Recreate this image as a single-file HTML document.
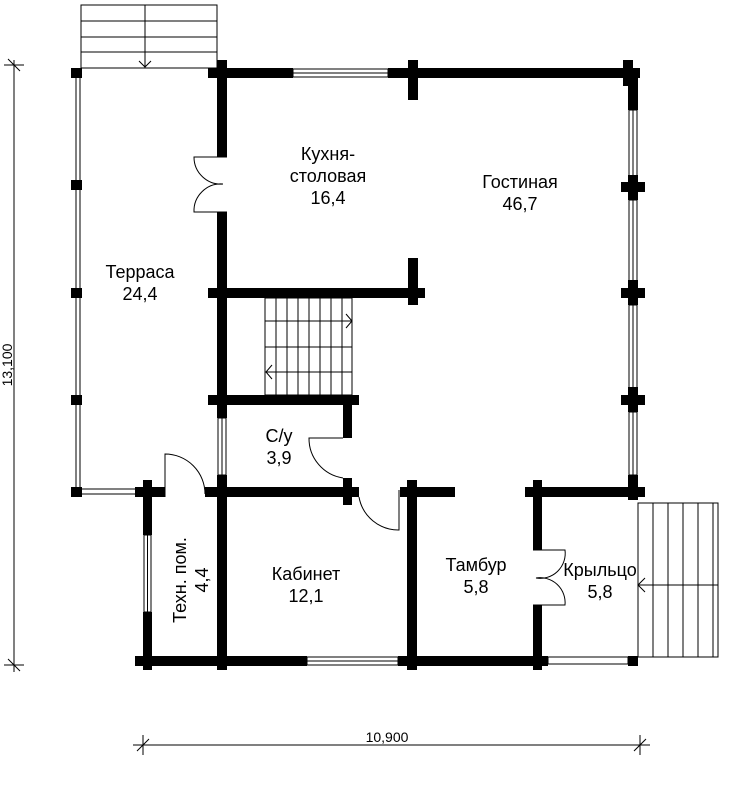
<!DOCTYPE html>
<html><head><meta charset="utf-8"><style>
html,body{margin:0;padding:0;background:#fff;}
svg{display:block;}
text{font-family:"Liberation Sans",sans-serif;font-size:18px;fill:#000;}
</style></head><body>
<svg width="737" height="800" viewBox="0 0 737 800" xmlns="http://www.w3.org/2000/svg">
<g fill="#000">
<rect x="208" y="68" width="85" height="10"/>
<rect x="388" y="68" width="252" height="10"/>
<rect x="217" y="60" width="10" height="97"/>
<rect x="408" y="60" width="10" height="40"/>
<rect x="623" y="60" width="10" height="26"/>
<rect x="71" y="68" width="11" height="10"/>
<rect x="71" y="180" width="11" height="10"/>
<rect x="71" y="288" width="11" height="10"/>
<rect x="71" y="395" width="11" height="10"/>
<rect x="71" y="487" width="11" height="10"/>
<rect x="217" y="212" width="10" height="206"/>
<rect x="217" y="475" width="10" height="195"/>
<rect x="208" y="288" width="217" height="10"/>
<rect x="408" y="258" width="10" height="47"/>
<rect x="208" y="395" width="151" height="10"/>
<rect x="343" y="395" width="9" height="43"/>
<rect x="343" y="478" width="9" height="27"/>
<rect x="135" y="487" width="30" height="10"/>
<rect x="205" y="487" width="154" height="10"/>
<rect x="400" y="487" width="55" height="10"/>
<rect x="525" y="487" width="115" height="10"/>
<rect x="143" y="480" width="9" height="55"/>
<rect x="143" y="612" width="9" height="58"/>
<rect x="407" y="480" width="10" height="190"/>
<rect x="533" y="480" width="9" height="70"/>
<rect x="533" y="605" width="9" height="65"/>
<rect x="628" y="68" width="10" height="42"/>
<rect x="621" y="182" width="24" height="10"/>
<rect x="628" y="175" width="10" height="25"/>
<rect x="621" y="288" width="24" height="10"/>
<rect x="628" y="280" width="10" height="25"/>
<rect x="621" y="395" width="24" height="10"/>
<rect x="628" y="387" width="10" height="25"/>
<rect x="628" y="475" width="10" height="25"/>
<rect x="621" y="487" width="24" height="10"/>
<rect x="135" y="656" width="172" height="10"/>
<rect x="398" y="656" width="150" height="10"/>
<rect x="143" y="650" width="9" height="20"/>
<rect x="217" y="650" width="10" height="20"/>
<rect x="407" y="650" width="10" height="20"/>
<rect x="533" y="650" width="9" height="20"/>
<rect x="628" y="656" width="10" height="10"/>
</g>
<g fill="none" stroke="#000" stroke-width="1">
<rect x="293" y="69" width="95" height="8"/><line x1="293" y1="73" x2="388" y2="73"/>
<rect x="307" y="657" width="91" height="8"/><line x1="307" y1="661" x2="398" y2="661"/>
<rect x="548" y="657" width="80" height="7"/>
<rect x="218" y="418" width="8" height="57"/><line x1="222" y1="418" x2="222" y2="475"/>
<rect x="144" y="535" width="7" height="77"/><line x1="147.5" y1="535" x2="147.5" y2="612"/>
<rect x="629" y="110" width="8" height="72"/><line x1="633" y1="110" x2="633" y2="182"/>
<rect x="629" y="200" width="8" height="88"/><line x1="633" y1="200" x2="633" y2="288"/>
<rect x="629" y="305" width="8" height="90"/><line x1="633" y1="305" x2="633" y2="395"/>
<rect x="629" y="412" width="8" height="63"/><line x1="633" y1="412" x2="633" y2="475"/>
<line x1="76" y1="78" x2="76" y2="487"/><line x1="80" y1="78" x2="80" y2="487"/>
<line x1="82" y1="489" x2="135" y2="489"/><line x1="82" y1="494" x2="135" y2="494"/>
<rect x="81" y="5" width="136" height="63"/>
<line x1="81" y1="21" x2="217" y2="21"/><line x1="81" y1="37" x2="217" y2="37"/><line x1="81" y1="52" x2="217" y2="52"/>
<line x1="145" y1="5" x2="145" y2="68"/><polyline points="139,61 145,67 151,61"/>
<rect x="265" y="298" width="87" height="97"/>
<line x1="276" y1="298" x2="276" y2="395"/><line x1="287" y1="298" x2="287" y2="395"/><line x1="298" y1="298" x2="298" y2="395"/><line x1="309" y1="298" x2="309" y2="395"/><line x1="320" y1="298" x2="320" y2="395"/><line x1="331" y1="298" x2="331" y2="395"/><line x1="342" y1="298" x2="342" y2="395"/>
<line x1="265" y1="321" x2="352" y2="321"/><line x1="265" y1="347" x2="352" y2="347"/><line x1="265" y1="372" x2="352" y2="372"/>
<polyline points="346,314 352,321 346,328"/><polyline points="272,365 266,372 272,379"/>
<rect x="638" y="503" width="80" height="154"/>
<line x1="653" y1="503" x2="653" y2="657"/><line x1="668" y1="503" x2="668" y2="657"/><line x1="683" y1="503" x2="683" y2="657"/><line x1="698" y1="503" x2="698" y2="657"/><line x1="713" y1="503" x2="713" y2="657"/>
<line x1="638" y1="585" x2="718" y2="585"/><polyline points="645,578 638,585 645,592"/>
<path d="M227,157 L194,157 A27,27 0 0 0 223,184 M227,212 L194,212 A27,27 0 0 1 223,184"/>
<path d="M343,438 L309,438 A40,40 0 0 0 343,478"/>
<path d="M165,497 L165,454 A40,40 0 0 1 205,494"/>
<path d="M359,497 A40,40 0 0 0 399,530 L399,490"/>
<path d="M533,550 L565,550 A25,25 0 0 1 536,578 M533,605 L565,605 A25,25 0 0 0 536,578"/>
<line x1="14" y1="60" x2="14" y2="672"/><line x1="4" y1="65" x2="24" y2="65"/><line x1="4" y1="665" x2="24" y2="665"/>
<line x1="8" y1="59" x2="20" y2="71"/><line x1="8" y1="659" x2="20" y2="671"/>
<line x1="133" y1="745" x2="650" y2="745"/><line x1="143" y1="735" x2="143" y2="755"/><line x1="640" y1="735" x2="640" y2="755"/>
<line x1="137" y1="751" x2="149" y2="739"/><line x1="634" y1="751" x2="646" y2="739"/>
</g>
<g text-anchor="middle">
<text x="328" y="160">Кухня-</text><text x="328" y="182">столовая</text><text x="328" y="204">16,4</text>
<text x="520" y="188">Гостиная</text><text x="520" y="210">46,7</text>
<text x="140" y="278">Терраса</text><text x="140" y="300">24,4</text>
<text x="279" y="442">С/у</text><text x="279" y="464">3,9</text>
<text x="306" y="580">Кабинет</text><text x="306" y="602">12,1</text>
<text x="476" y="571">Тамбур</text><text x="476" y="593">5,8</text>
<text x="600" y="576">Крыльцо</text><text x="600" y="598">5,8</text>
<text transform="translate(186,580) rotate(-90)">Техн. пом.</text>
<text transform="translate(208,580) rotate(-90)">4,4</text>
<text x="387" y="742" style="font-size:14px">10,900</text>
<text transform="translate(12,365) rotate(-90)" style="font-size:14px">13,100</text>
</g>
</svg>
</body></html>
